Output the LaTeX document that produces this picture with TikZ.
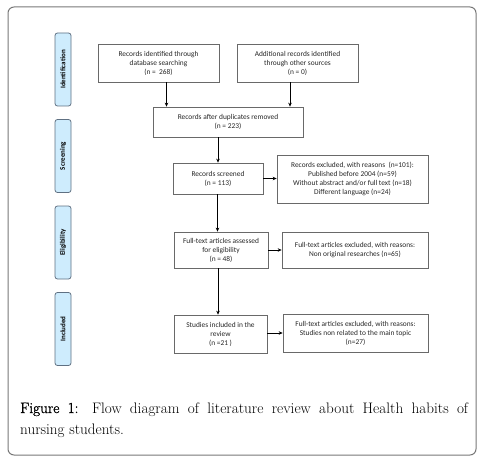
\documentclass[tikz,border=0pt]{standalone}
\usepackage{fontspec}
\setmainfont{Latin Modern Roman}
\newfontfamily\boxfont{Carlito}
\newfontfamily\capsemi[FakeBold=1.3]{Latin Modern Roman}
\usetikzlibrary{arrows.meta,calc}
\definecolor{lblfill}{RGB}{206,236,253}
\definecolor{lbldraw}{RGB}{95,112,130}
\definecolor{boxdraw}{RGB}{105,105,105}
\definecolor{framecol}{RGB}{120,120,120}
\tikzset{
  flowbox/.style={draw=boxdraw, line width=0.7pt, rectangle, align=center, inner sep=1pt,
    font=\boxfont\fontsize{7.4pt}{9pt}\selectfont, text=black!85},
  sidelbl/.style={draw=lbldraw, fill=lblfill, line width=0.8pt, rounded corners=2.5pt, rotate=90,
    minimum width=73pt, minimum height=16pt, inner sep=0pt,
    font=\boxfont\bfseries\fontsize{7pt}{8pt}\selectfont},
  arr/.style={-{Stealth[length=4pt,width=3.5pt]}, line width=0.7pt, black},
  captext/.style={anchor=base west, inner sep=0pt, font=\fontsize{15.2pt}{21pt}\selectfont}
}
\begin{document}
\begin{tikzpicture}[x=1pt,y=-1pt]
\useasboundingbox (0,0) rectangle (485,460);
\draw[framecol, line width=1pt, rounded corners=6pt] (8,7) rectangle (476,455);

\node[sidelbl] (lid) at (63,69.5) {Identification};
\node[sidelbl] (lsc) at (63,156) {Screening};
\node[sidelbl] (lel) at (63,242.5) {Eligibility};
\node[sidelbl] (lin) at (63,329) {Included};

\node[flowbox, minimum width=121pt, minimum height=38pt] (A) at (158.5,63)
  {Records identified through\\database searching\\(n =\ \ 268)};
\node[flowbox, minimum width=121pt, minimum height=38pt] (B) at (297.5,63)
  {Additional records identified\\through other sources\\(n = 0)};
\node[flowbox, minimum width=150pt, minimum height=30pt] (dup) at (228,122)
  {Records after duplicates removed\\(n = 223)};
\node[flowbox, minimum width=90pt, minimum height=31pt] (scr) at (218,178.5)
  {Records screened\\(n = 113)};
\node[flowbox, minimum width=151pt, minimum height=48pt] (exc1) at (352.5,179)
  {Records excluded, with reasons\ \ (n=101):\\Published before 2004 (n=59)\\Without abstract and/or full text (n=18)\\Different language (n=24)};
\node[flowbox, minimum width=94pt, minimum height=36pt] (elig) at (221,250)
  {Full-text articles assessed\\for eligibility\\(n = 48)};
\node[flowbox, minimum width=146pt, minimum height=36pt] (exc2) at (355,250)
  {Full-text articles excluded, with reasons:\\Non original researches (n=65)};
\node[flowbox, minimum width=93pt, minimum height=38pt] (inc) at (220.5,334)
  {Studies included in the\\review\\(n =21 )};
\node[flowbox, minimum width=145pt, minimum height=38pt] (exc3) at (355.5,333)
  {Full-text articles excluded, with reasons:\\Studies non related to the main topic\\(n=27)};

\draw[arr] ([xshift=8pt]A.south) -- ([xshift=8pt]A.south |- dup.north);
\draw[arr] ([xshift=-7.5pt]B.south) -- ([xshift=-7.5pt]B.south |- dup.north);
\draw[arr] (scr.north |- dup.south) -- (scr.north);
\draw[arr] (scr.east) -- (exc1.west |- scr.east);
\draw[arr] ([xshift=-0.5pt]scr.south) -- ([xshift=-0.5pt]scr.south |- elig.north);
\draw[arr] (elig.east) -- (exc2.west);
\draw[arr] ([xshift=-3pt]elig.south) -- ([xshift=-3pt]elig.south |- inc.north);
\draw[arr] ([yshift=1pt]inc.east) -- ([yshift=1pt]inc.east -| exc3.west);

\node[captext] (cap1) at (20,413)
  {\makebox[448pt][s]{{\capsemi Figure 1:} Flow diagram of literature review about Health habits of}};
\node[captext] (cap2) at (20,434)
  {nursing students.};
\end{tikzpicture}
\end{document}
